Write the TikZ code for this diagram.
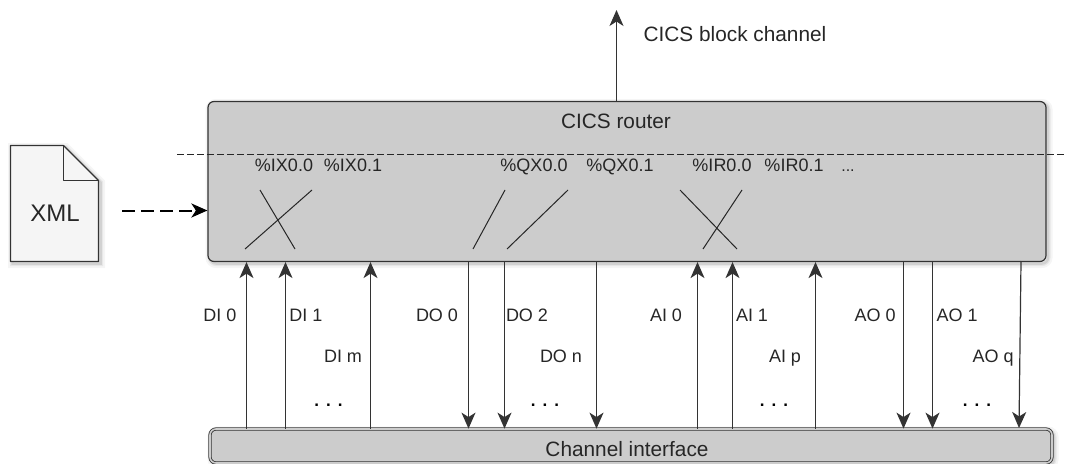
\documentclass[tikz,border=0pt]{standalone}
\usepackage{fontspec}
\setmainfont{Liberation Sans}
\usetikzlibrary{arrows.meta}
\tikzset{
  softshadow/.style={
    preaction={draw=black,draw opacity=.04,line width=9pt,transform canvas={shift={(2pt,-2pt)}}},
    preaction={draw=black,draw opacity=.06,line width=5pt,transform canvas={shift={(2pt,-2pt)}}},
    preaction={draw=black,draw opacity=.09,line width=2.5pt,transform canvas={shift={(2pt,-2pt)}}}},
  boxmain/.style={draw=black!80,line width=1.2pt,fill=boxgray,rounded corners=6pt,inner sep=0pt},
  lbl/.style={font=\fontsize{18}{20}\selectfont,text=black!85,inner sep=0pt,anchor=base},
  title/.style={font=\fontsize{20.8}{23}\selectfont,text=black!85,inner sep=0pt,anchor=base},
  arrhead/.style={-{Stealth[length=16pt,width=14pt,inset=4.5pt]}},
  arr/.style={draw=black!80,line width=1.2pt,arrhead},
  wire/.style={draw=black!85,line width=1pt},
  cut/.style={draw=black!85,line width=.9pt,dash pattern=on 7pt off 3pt},
}
\definecolor{boxgray}{HTML}{CCCCCC}
\definecolor{docgray}{HTML}{F5F5F5}
\begin{document}
\begin{tikzpicture}[x=1pt,y=-1pt]
\useasboundingbox (0,0) rectangle (1067,463);
% boxes
\node[boxmain,softshadow,minimum width=838pt,minimum height=160pt] (router) at (627,181.5) {};
\node[title] (routertext) at (616,128) {CICS router};
\node[boxmain,softshadow,double=boxgray,double distance=1.6pt,line width=.8pt,draw=black!80,minimum width=842pt,minimum height=34pt] (iface) at (631,446) {};
\node[title] (ifacetext) at (627,456) {Channel interface};
% document
\draw[softshadow,draw=black!80,line width=1.2pt,fill=docgray,line join=round]
  (10.5,145.5) -- (63.5,145.5) -- (98.5,180.5) -- (98.5,261.5) -- (10.5,261.5) -- cycle;
\draw[draw=black!80,line width=1.2pt,line join=round] (63.5,145.5) -- (63.5,180.5) -- (98.5,180.5);
\node[lbl,font=\fontsize{24}{26}\selectfont] (xml) at (55,221) {XML};
\coordinate (xmlout) at (122,210.5);
\draw[draw=black,line width=2pt,dash pattern=on 13pt off 6pt,arrhead] (xmlout) -- (xmlout -| router.west);
% dashed separator
\coordinate (cutl) at (177,154.5);
\coordinate (cutr) at (1067,154.5);
\draw[cut] (cutl) -- (cutr);
% top output
\coordinate (blocktop) at (616.5,10);
\draw[arr] (blocktop |- router.north) -- (blocktop);
\node[title] (blocktext) at (735,41) {CICS block channel};
% register labels
\node[lbl] (ix0) at (284,171) {\%IX0.0};
\node[lbl] (ix1) at (353,171) {\%IX0.1};
\node[lbl] (qx0) at (534,171) {\%QX0.0};
\node[lbl] (qx1) at (620,171) {\%QX0.1};
\node[lbl] (ir0) at (722,171) {\%IR0.0};
\node[lbl] (ir1) at (794,171) {\%IR0.1};
\node[lbl,font=\fontsize{16}{18}\selectfont] (irn) at (848,171) {...};
% crossings
\draw[wire] (260,190) -- (295,249);
\draw[wire] (312,190) -- (245,249);
\draw[wire] (505,190) -- (473,249);
\draw[wire] (568,190) -- (507,249);
\draw[wire] (680,190) -- (737,249);
\draw[wire] (742,190) -- (703,249);
% channels
\foreach \n/\x in {a/246.5,b/285.5,c/370.5,g/697.5,h/732.5,i/815.5}{
  \coordinate (up\n) at (\x,300);
  \draw[arr] (up\n |- iface.north) -- (up\n |- router.south);
}
\foreach \n/\x in {d/468.5,e/504.5,f/596.5,j/903.5,k/932.5}{
  \coordinate (dn\n) at (\x,300);
  \draw[arr] (dn\n |- router.south) -- (dn\n |- iface.north);
}
\coordinate (dnlt) at (1021,261);
\coordinate (dnlb) at (1019,428);
\draw[arr] (dnlt) -- (dnlb);
% channel labels
\foreach \n/\x/\y/\t in {a/220/321/DI 0,b/306/321/DI 1,c/343/362/DI m,
  d/437/321/DO 0,e/527/321/DO 2,f/561/362/DO n,
  g/666/321/AI 0,h/752/321/AI 1,i/785/362/AI p,
  j/875/321/AO 0,k/957/321/AO 1,l/993/362/AO q}{
  \node[lbl] (lab\n) at (\x,\y) {\t};
}
% ellipses
\foreach \n/\x in {a/328.5,b/545,c/774,d/977}{
  \node[lbl,font=\fontsize{17}{18}\selectfont\bfseries,text=black] (dots\n) at (\x,406.5) {.\hspace{7pt}.\hspace{7pt}.};
}
\end{tikzpicture}
\end{document}
